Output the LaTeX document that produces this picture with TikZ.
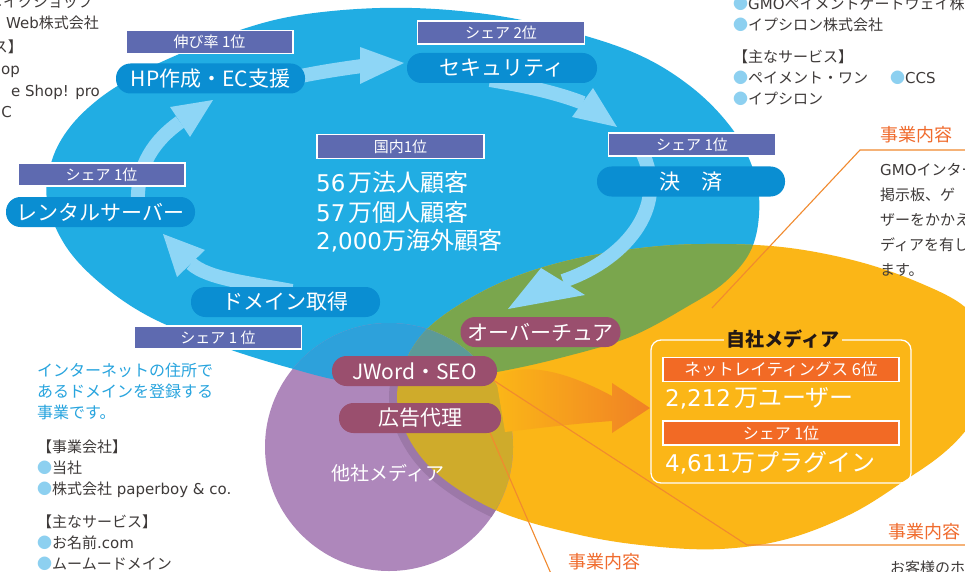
\documentclass[tikz,border=0pt]{standalone}
\usepackage{fontspec}
\setmainfont{Noto Sans CJK JP}
\newfontfamily\lat{DejaVu Sans}
\newcommand\FSz[1]{\fontsize{#1}{#1}\selectfont}
\definecolor{bluebg}{HTML}{21ADE3}
\definecolor{pillblue}{HTML}{0A8ED2}
\definecolor{labblue}{HTML}{5E6AB0}
\definecolor{arrowc}{HTML}{8ED6F6}
\definecolor{orangebg}{HTML}{FBB617}
\definecolor{greenov}{HTML}{7AA64D}
\definecolor{purplec}{HTML}{AE87BB}
\definecolor{purpblue}{HTML}{2DA1DB}
\definecolor{tealov}{HTML}{5C9A98}
\definecolor{oliveov}{HTML}{CFAB2B}
\definecolor{shadowp}{HTML}{9C78A8}
\definecolor{maroonc}{HTML}{9A4F6E}
\definecolor{labor}{HTML}{F26A25}
\definecolor{olinec}{HTML}{F18A2F}
\definecolor{txtgray}{HTML}{3E3A39}
\definecolor{titleor}{HTML}{F06B2D}
\definecolor{bluetxt}{HTML}{27A4DE}
\definecolor{bulc}{HTML}{8DD0F0}
\definecolor{darkt}{HTML}{231815}
\definecolor{arrowdark}{HTML}{F08125}
\newcommand\BluePath{plot[smooth cycle, tension=0.6] coordinates {(47,200) (52,160) (70,127) (100,98) (138,74) (177,55) (240,30) (300,15) (380,8) (460,11) (540,24) (630,51) (690,86) (733,130) (755,175) (759,215) (750,252) (725,282) (690,305) (630,337) (560,358) (497,372) (420,384) (350,382) (290,368) (220,346) (150,317) (100,283) (65,245)}}
\newcommand\OrangePath{plot[smooth cycle, tension=0.6] coordinates {(397,395) (410,352) (440,318) (500,283) (570,260) (650,247) (720,244) (790,248) (860,262) (920,283) (965,307) (988,340) (992,380) (978,412) (962,435) (940,456) (910,477) (853,513) (787,539) (720,549) (650,546) (580,535) (500,512) (440,476) (408,437)}}
\newcommand\PurplePath{(389,447) circle[radius=124pt]}
\newcommand\Bul{{\color{bulc}●}}
\newcommand\Dg[1]{{\lat\fontsize{23}{23}\selectfont #1}}
\begin{document}
\begin{tikzpicture}[x=1pt,y=-1pt,
  pill/.style={rounded corners=14.5pt, minimum height=30pt, inner sep=0pt, text=white, font=\FSz{21}},
  bpill/.style={pill, fill=pillblue},
  mpill/.style={pill, fill=maroonc},
  lab/.style={draw=white, line width=1.2pt, fill=labblue, text=white, minimum height=23pt, minimum width=167pt, inner sep=0pt, font=\FSz{15}},
  olab/.style={lab, fill=labor, minimum width=236pt, minimum height=24pt, font=\FSz{16}},
  big/.style={text=white, font=\FSz{24}, inner sep=0pt, anchor=west},
  side/.style={anchor=west, inner sep=0pt, text=txtgray, font=\FSz{15}},
  sidee/.style={anchor=base east, inner sep=0pt, text=txtgray, font=\FSz{15}},
  bside/.style={anchor=west, inner sep=0pt, text=bluetxt, font=\FSz{16}},
  otitle/.style={anchor=west, inner sep=0pt, text=titleor, font=\FSz{18}},
  oline/.style={draw=olinec, line width=1.1pt},
  shaft/.style={draw=arrowc, line width=14pt},
  ahead/.style={fill=arrowc}
]
\useasboundingbox (0,0) rectangle (965,572);
\fill[white] (0,0) rectangle (965,572);
\begin{scope}
\clip (0,0) rectangle (965,572);
% --- background shapes
\fill[bluebg] \BluePath;
\fill[orangebg] \OrangePath;
\begin{scope}
  \clip \BluePath;
  \fill[greenov] \OrangePath;
\end{scope}
\fill[purplec] \PurplePath;
\begin{scope}
  \clip \PurplePath;
  \draw[shadowp, line width=16pt] \OrangePath;
  \fill[purpblue] \BluePath;
  \clip \OrangePath;
  \fill[oliveov] \OrangePath;
  \clip \BluePath;
  \fill[tealov] \BluePath;
\end{scope}

% --- cycle arrows
\coordinate (a1s) at (138,205); \coordinate (a1e) at (180,122);
\draw[shaft] (a1s) .. controls (136,165) and (155,140) .. (a1e);
\fill[ahead] (213,100) -- (170,107) -- (190,137) -- cycle;
\coordinate (a2s) at (296,77); \coordinate (a2e) at (362,66);
\draw[shaft] (a2s) .. controls (320,72) and (340,69) .. (a2e);
\fill[ahead] (404,63) -- (360,47) -- (360,84) -- cycle;
\coordinate (a3s) at (490,80); \coordinate (a3e) at (583,103);
\draw[shaft] (a3s) .. controls (520,85) and (555,92) .. (a3e);
\fill[ahead] (617,127) -- (593,88) -- (572,117) -- cycle;
\coordinate (a4s) at (641,150); \coordinate (a4e) at (563,281);
\draw[shaft] (a4s) .. controls (672,210) and (620,262) .. (a4e);
\fill[ahead] (508,309) -- (541,268) -- (585,295) -- cycle;
\coordinate (a5s) at (292,291); \coordinate (a5e) at (191,263.5);
\draw[shaft] (a5s) .. controls (250,283) and (208,279) .. (a5e);
\fill[ahead] (163,234) -- (177,277) -- (205,250) -- cycle;

% --- orange gradient arrow
\shade[left color=orangebg, right color=arrowdark]
  (496,378) .. controls (520,362) and (560,368) .. (612,396) -- (612,383) -- (650,408) -- (612,433) -- (612,421) .. controls (570,424) and (540,428) .. (505,432) -- cycle;

% --- thin orange leader lines
\coordinate (r1) at (965,150); \coordinate (r2) at (860,150); \coordinate (r3) at (712,308);
\draw[oline] (r1) -- (r2) -- (r3);
\coordinate (j1) at (490,378); \coordinate (j2) at (747,545); \coordinate (j3) at (965,545);
\draw[oline] (j1) -- (j2) -- (j3);
\coordinate (k1) at (488,428); \coordinate (k2) at (552,576);
\draw[oline] (k1) -- (k2);

% --- pills
\node[bpill, minimum width=189pt] (hp) at (210.5,78.5) {HP作成・EC支援};
\node[bpill, minimum width=190pt] (sec) at (502,68) {セキュリティ};
\node[bpill, minimum width=188pt] (kes) at (691,181.5) {決\hspace{1em}済};
\node[bpill, minimum width=189pt] (rent) at (100.5,212) {レンタルサーバー};
\node[bpill, minimum width=189pt] (dom) at (285.5,302) {ドメイン取得};
\node[mpill, minimum width=160pt] (ovt) at (540.5,332) {オーバーチュア};
\node[mpill, minimum width=165pt] (jw) at (414.5,371) {JWord・SEO};
\node[mpill, minimum width=162pt] (ad) at (420,418) {広告代理};

% --- rank labels
\node[lab] (l1) at (209.5,42) {伸び率 1位};
\node[lab] (l2) at (501,32.5) {シェア 2位};
\node[lab, minimum height=24pt] (l3) at (400.5,146.5) {国内1位};
\node[lab] (l4) at (692,144.5) {シェア 1位};
\node[lab] (l5) at (101.5,174.5) {シェア 1位};
\node[lab] (l6) at (218,337.5) {シェア 1 位};

% --- big figures
\node[big] (t1) at (316,182) {\Dg{56}\hspace{3pt}万法人顧客};
\node[big] (t2) at (316,212) {\Dg{57}\hspace{3pt}万個人顧客};
\node[big] (t3) at (316,241) {\Dg{2,000}万海外顧客};
\node[text=white, font=\FSz{19}, inner sep=0pt] (tasha) at (388,473) {他社メディア};

% --- own media box
\draw[white, line width=1.3pt, rounded corners=10pt] (651,340) rectangle (911,483);
\node[fill=orangebg, text=darkt, font=\FSz{19}\bfseries, inner sep=3pt] (jisha) at (783,339) {自社メディア};
\node[olab, font=\FSz{16.5}] (o1) at (781,369.5) {ネットレイティングス 6位};
\node[big] (u1) at (665,398) {\Dg{2,212}\hspace{3pt}万ユーザー};
\node[olab] (o2) at (781,433) {シェア 1位};
\node[big] (u2) at (665,463) {\Dg{4,611}万プラグイン};

% --- top-left fragments
\node[sidee] (f1) at (93,8) {メイクショップ};
\node[sidee] (f2) at (99,29) {{\lat Web}株式会社};
\node[sidee] (f3) at (23,53) {ス】};
\node[sidee] (f4) at (20,75) {\lat op};
\node[sidee] (f5) at (100,97) {\lat e Shop! pro};
\node[sidee] (f6) at (12,118) {\lat C};

% --- top-right text
\node[side] (g1) at (733,4) {\Bul {\lat GMO}ペイメントゲートウェイ株式会社};
\node[side] (g2) at (733,25) {\Bul イプシロン株式会社};
\node[side] (g3) at (733,57) {【主なサービス】};
\node[side] (g4) at (733,78) {\Bul ペイメント・ワン};
\node[side] (g5) at (890,78) {\Bul {\lat CCS}};
\node[side] (g6) at (733,99) {\Bul イプシロン};

% --- right middle text
\node[otitle] (bz1) at (880,135) {事業内容};
\node[side] (h1) at (880,170) {{\lat GMO}インター};
\node[side] (h2) at (880,195) {掲示板、ゲ};
\node[side] (h3) at (880,220) {ザーをかかえ};
\node[side] (h4) at (880,245) {ディアを有し};
\node[side] (h5) at (880,270) {ます。};

% --- bottom texts
\node[otitle] (bz2) at (888,532) {事業内容};
\node[side] (h6) at (890,568) {お客様のホ};
\node[otitle] (bz3) at (568,562) {事業内容};

% --- left bottom text
\node[bside] (d1) at (37,370) {インターネットの住所で};
\node[bside] (d2) at (37,391) {あるドメインを登録する};
\node[bside] (d3) at (37,412) {事業です。};
\node[side] (e1) at (37,447) {【事業会社】};
\node[side] (e2) at (37,468) {\Bul 当社};
\node[side] (e3) at (37,490) {\Bul 株式会社{\lat\ paperboy \& co.}};
\node[side] (e4) at (37,522) {【主なサービス】};
\node[side] (e5) at (37,543) {\Bul お名前{\lat .com}};
\node[side] (e6) at (37,564) {\Bul ムームードメイン};
\end{scope}
\end{tikzpicture}
\end{document}
